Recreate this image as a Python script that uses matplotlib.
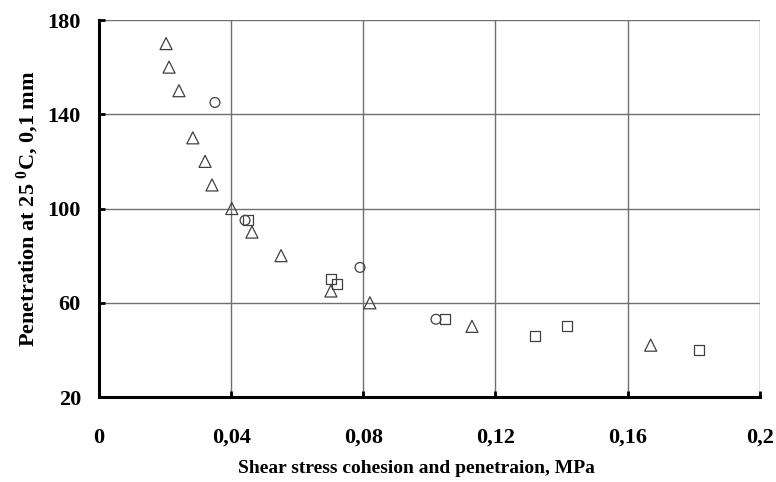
import matplotlib
matplotlib.use("Agg")
import matplotlib.pyplot as plt
from matplotlib.ticker import MultipleLocator, FuncFormatter

plt.rcParams['font.family'] = ['Liberation Serif', 'DejaVu Serif']
plt.rcParams['font.weight'] = 'bold'
plt.rcParams['mathtext.fontset'] = 'custom'
plt.rcParams['mathtext.rm'] = 'Liberation Serif:bold'
plt.rcParams['mathtext.bf'] = 'Liberation Serif:bold'
plt.rcParams['mathtext.it'] = 'Liberation Serif:bold'

# data
tri_x = [0.0203, 0.0212, 0.0242, 0.0284, 0.0321, 0.0342, 0.0402, 0.0463, 0.0551, 0.0702, 0.0820, 0.1129, 0.1670]
tri_y = [170, 160, 150, 130, 120, 110, 100, 90, 80, 65, 60, 50, 42]
circ_x = [0.0351, 0.0442, 0.0790, 0.1020]
circ_y = [145, 95, 75, 53]
sq_x = [0.0450, 0.0702, 0.0720, 0.1047, 0.1320, 0.1416, 0.1815]
sq_y = [95, 70, 68, 53, 46, 50, 40]
y_ticks = [20, 60, 100, 140, 180]

def comma_fmt(x, pos):
    return ("%g" % round(x, 4)).replace(".", ",")

fig = plt.figure(figsize=(7.76, 4.82), dpi=100)
ax = fig.add_axes([0.1276, 0.1763, 0.8514, 0.7822])

edge = '#404040'
ax.scatter(tri_x, tri_y, marker='^', s=75, facecolors='none', edgecolors=edge, linewidths=0.9, zorder=3)
ax.scatter(circ_x, circ_y, marker='o', s=50, facecolors='none', edgecolors=edge, linewidths=0.9, zorder=3)
ax.scatter(sq_x, sq_y, marker='s', s=50, facecolors='none', edgecolors=edge, linewidths=0.9, zorder=3)

ax.set_xlim(0, 0.2)
ax.set_ylim(20, 180)
ax.xaxis.set_major_locator(MultipleLocator(0.04))
ax.set_yticks(y_ticks)
ax.xaxis.set_major_formatter(FuncFormatter(comma_fmt))

ax.grid(True, color='#707070', linewidth=1.0)
ax.set_axisbelow(True)
for s in ['top', 'right']:
    ax.spines[s].set_visible(False)
for s in ['left', 'bottom']:
    ax.spines[s].set_linewidth(2.2)
    ax.spines[s].set_color('black')

ax.tick_params(axis='x', direction='in', length=4, width=2, labelsize=16, pad=22)
ax.tick_params(axis='y', direction='in', length=4, width=2, labelsize=16, pad=13)

ax.set_xlabel('Shear stress cohesion and penetraion, MPa', fontsize=14, fontweight='bold', labelpad=9)
ax.xaxis.label.set_x(0.48)
ax.set_ylabel(r'Penetration at 25 $^{0}$C, 0,1 mm', fontsize=16, fontweight='bold', labelpad=5)

fig.savefig('out.png', dpi=100)
